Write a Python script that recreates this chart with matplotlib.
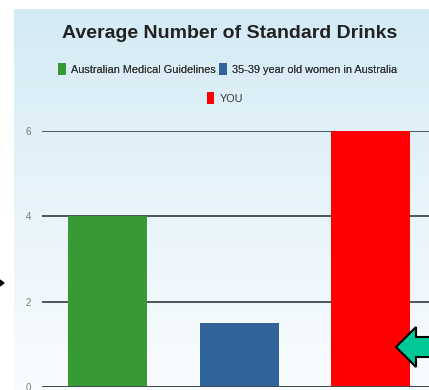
import matplotlib.pyplot as plt
import numpy as np
from matplotlib.patches import Polygon

# data
groups = ['Australian Medical Guidelines', '35-39 year old women in Australia', 'YOU']
drinks = [4, 1.5, 6]
colors = ['#389a34', '#30649a', '#ff0000']
yticks = [0, 2, 4, 6]

W, H = 429, 390
fig = plt.figure(figsize=(W / 100, H / 100), dpi=100)
font = ['Liberation Sans', 'DejaVu Sans']

# light blue gradient panel behind the chart
bg = fig.add_axes([14 / W, 0, 1 - 14 / W, (H - 9) / H])
grad = np.linspace(0, 1, 256).reshape(-1, 1)
top = np.array([0.83, 0.92, 0.96])
bot = np.array([0.98, 0.99, 1.0])
img = top + (bot - top) * grad[..., None]
bg.imshow(img, aspect='auto', extent=[0, 1, 0, 1], origin='upper')
bg.set_axis_off()

ax = fig.add_axes([42 / W, 3 / H, 1 - 42 / W, (387 - 131) / H])
ax.set_facecolor('none')
x = np.arange(len(groups))
bars = ax.bar(x, drinks, width=0.6, color=colors, zorder=3)
ax.set_xlim(-0.5, 2.445)
ax.set_ylim(0, 6)
ax.set_yticks(yticks)
ax.set_xticks([])
ax.yaxis.grid(True, color='#3f4a50', linewidth=1.3, zorder=1)
ax.tick_params(axis='y', length=0, labelsize=7, labelcolor='#777777', pad=8)
for lbl in ax.get_yticklabels():
    lbl.set_family(font)
for s in ax.spines.values():
    s.set_visible(False)
ax.axhline(0, color='#3f4a50', linewidth=1.3, zorder=4)

# title
fig.text(230 / W, 1 - 33 / H, 'Average Number of Standard Drinks', ha='center', va='center',
         fontsize=14, fontweight='bold', color='#222222', family=font)

# legends
leg1 = fig.legend(bars[:2], groups[:2], loc='center', bbox_to_anchor=(228 / W, 1 - 69 / H), ncol=2,
                  frameon=False, handlelength=0.7, handleheight=1.2, handletextpad=0.5,
                  columnspacing=0.3, labelcolor='#333333', prop={'family': font, 'size': 7.8})
leg2 = fig.legend(bars[2:], groups[2:], loc='center', bbox_to_anchor=(225 / W, 1 - 98 / H),
                  frameon=False, handlelength=0.7, handleheight=1.2, handletextpad=0.5,
                  labelcolor='#333333', prop={'family': font, 'size': 7.8})
fig.add_artist(leg1)

# decorative arrows from the screenshot
def px(p):
    return (p[0] / W, 1 - p[1] / H)

green_arrow = [(396, 347), (416, 327), (416, 337), (432, 337), (432, 357), (416, 357), (416, 367)]
fig.add_artist(Polygon([px(p) for p in green_arrow], closed=True, facecolor='#00c896',
                       edgecolor='black', linewidth=1.5, transform=fig.transFigure, zorder=10))
black_arrow = [(-3, 278), (4, 283), (-3, 288)]
fig.add_artist(Polygon([px(p) for p in black_arrow], closed=True, facecolor='black',
                       edgecolor='black', linewidth=1, transform=fig.transFigure, zorder=10))

plt.savefig('out.png', dpi=100)
